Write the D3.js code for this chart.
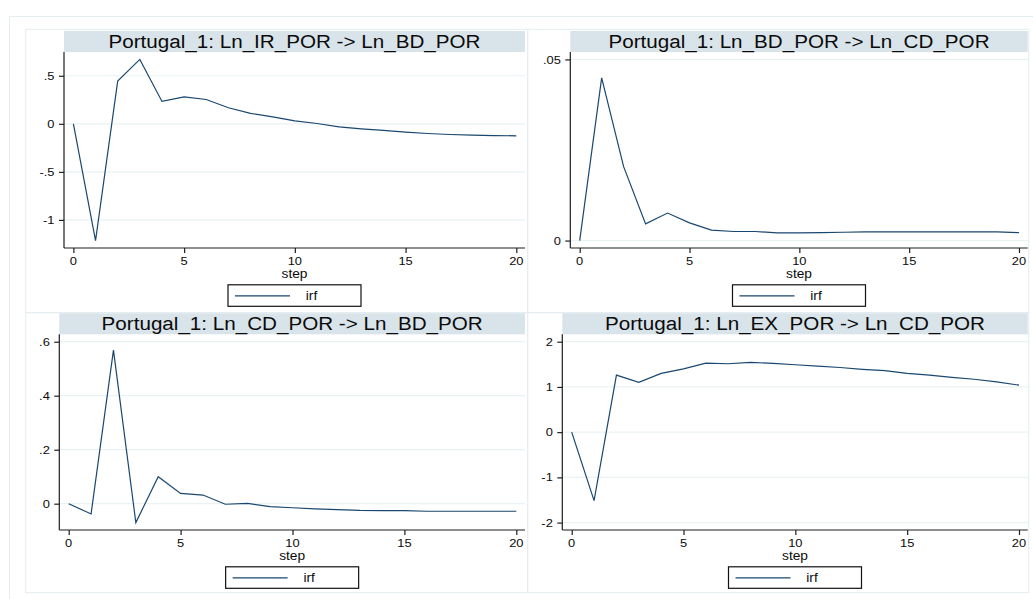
<!DOCTYPE html>
<html>
<head>
<meta charset="utf-8">
<script src="https://cdn.jsdelivr.net/npm/d3@7"></script>
<style>
  html, body { margin: 0; padding: 0; background: #ffffff; }
  svg { display: block; font-family: "Liberation Sans", Arial, sans-serif; }
</style>
</head>
<body>
<svg id="chart" width="1033" height="599"></svg>
<script>
// Impulse-response steps shared by all four graphs
const steps = [0, 1, 2, 3, 4, 5, 6, 7, 8, 9, 10, 11, 12, 13, 14, 15, 16, 17, 18, 19, 20];

const titles = [
  "Portugal_1: Ln_IR_POR -> Ln_BD_POR",
  "Portugal_1: Ln_BD_POR -> Ln_CD_POR",
  "Portugal_1: Ln_CD_POR -> Ln_BD_POR",
  "Portugal_1: Ln_EX_POR -> Ln_CD_POR"
];

// irf values, one array per impulse -> response pair
const irfIRtoBD = [0, -1.215, 0.444, 0.670, 0.233, 0.281, 0.253, 0.167, 0.108, 0.073, 0.031,
                   0.003, -0.031, -0.052, -0.069, -0.087, -0.101, -0.111, -0.118, -0.122, -0.125];
const irfBDtoCD = [0, 0.0449, 0.0204, 0.0046, 0.0076, 0.0049, 0.0029, 0.0025, 0.0025, 0.0021, 0.0021,
                   0.0022, 0.0023, 0.0024, 0.0024, 0.0024, 0.0024, 0.0024, 0.0024, 0.0024, 0.0022];
const irfCDtoBD = [0, -0.038, 0.569, -0.070, 0.100, 0.038, 0.032, -0.002, 0.001, -0.011, -0.015,
                   -0.019, -0.022, -0.025, -0.026, -0.026, -0.028, -0.028, -0.028, -0.028, -0.028];
const irfEXtoCD = [0, -1.513, 1.262, 1.10, 1.30, 1.40, 1.528, 1.513, 1.542, 1.52, 1.49,
                   1.46, 1.43, 1.39, 1.36, 1.30, 1.26, 1.21, 1.17, 1.11, 1.04];

// Axis ticks
const xTicks = [0, 5, 10, 15, 20];
const yTicksIRtoBD = [-1, -0.5, 0, 0.5];
const yLabelsIRtoBD = ["-1", "-.5", "0", ".5"];
const yTicksBDtoCD = [0, 0.05];
const yLabelsBDtoCD = ["0", ".05"];
const yTicksCDtoBD = [0, 0.2, 0.4, 0.6];
const yLabelsCDtoBD = ["0", ".2", ".4", ".6"];
const yTicksEXtoCD = [-2, -1, 0, 1, 2];
const yLabelsEXtoCD = ["-2", "-1", "0", "1", "2"];

const legendLabel = "irf";
const xTitle = "step";

// Layout of the 2x2 grid: outer panel box and inner plot region
const panels = [
  { title: titles[0], values: irfIRtoBD, yTicks: yTicksIRtoBD, yLabels: yLabelsIRtoBD,
    box: [25.7, 29.3, 527.7, 312.7], plot: [64, 52, 525, 248] },
  { title: titles[1], values: irfBDtoCD, yTicks: yTicksBDtoCD, yLabels: yLabelsBDtoCD,
    box: [527.7, 29.3, 1028.7, 312.7], plot: [570.3, 52, 1027.7, 248] },
  { title: titles[2], values: irfCDtoBD, yTicks: yTicksCDtoBD, yLabels: yLabelsCDtoBD,
    box: [25.7, 312.7, 527.7, 592.7], plot: [59.3, 334.3, 525, 530] },
  { title: titles[3], values: irfEXtoCD, yTicks: yTicksEXtoCD, yLabels: yLabelsEXtoCD,
    box: [527.7, 312.7, 1028.7, 592.7], plot: [562.3, 334.3, 1027.7, 530] }
];

const NAVY = "#1a476f";
const FRAME = "#e4edf0";
const GRID = "#eaf2f3";
const BAR = "#d9e4ea";
const AXIS = "#1e1e1e";
const SX = 1.11;          // horizontal text stretch
const TICK_FONT = 11.6;
const LABEL_FONT = 12.4;
const TITLE_FONT = 18.6;

const svg = d3.select("#chart");
svg.append("rect").attr("width", 1033).attr("height", 599).attr("fill", "#fff");

// outer graph frame
svg.append("rect")
  .attr("x", 9.5).attr("y", 16.5).attr("width", 1040).attr("height", 600)
  .attr("fill", "none").attr("stroke", FRAME).attr("stroke-width", 1);

function addText(g, x, y, str, size, anchor) {
  return g.append("text")
    .attr("transform", `translate(${x},${y}) scale(${SX},1)`)
    .attr("text-anchor", anchor)
    .attr("font-size", size)
    .attr("fill", "#0a0a0a")
    .text(str);
}

panels.forEach(p => {
  const g = svg.append("g");
  const [bx0, by0, bx1, by1] = p.box;
  const [left, top, right, bottom] = p.plot;

  g.append("rect")
    .attr("x", bx0).attr("y", by0).attr("width", bx1 - bx0).attr("height", by1 - by0)
    .attr("fill", "none").attr("stroke", FRAME).attr("stroke-width", 1);

  // y domain: data and ticks together, padded by 4.1% each side
  const ext = d3.extent(p.values.concat(p.yTicks));
  const pad = (ext[1] - ext[0]) * 0.041;
  const y = d3.scaleLinear().domain([ext[0] - pad, ext[1] + pad]).range([bottom, top]);
  const x = d3.scaleLinear().domain(d3.extent(steps)).range([left + 9.4, right - 8.7]);

  // title bar
  g.append("rect")
    .attr("x", left).attr("y", top - 21).attr("width", right - left).attr("height", 21)
    .attr("fill", BAR);
  addText(g, (left + right) / 2, top - 4.5, p.title, TITLE_FONT, "middle");

  // horizontal grid
  g.selectAll("line.grid").data(p.yTicks).enter().append("line")
    .attr("class", "grid")
    .attr("x1", left).attr("x2", right)
    .attr("y1", d => y(d)).attr("y2", d => y(d))
    .attr("stroke", GRID).attr("stroke-width", 1.2);

  // y axis
  const yAxis = d3.axisLeft(y).tickValues(p.yTicks).tickSize(5)
    .tickFormat((d, i) => p.yLabels[i]);
  const ya = g.append("g").attr("transform", `translate(${left},0)`).call(yAxis);
  ya.select(".domain").attr("d", `M0,${top}V${bottom}`).attr("stroke", AXIS).attr("stroke-width", 1.2);
  ya.selectAll(".tick line").attr("stroke", AXIS).attr("stroke-width", 1.2);
  ya.selectAll(".tick text").remove();
  p.yTicks.forEach((t, i) => {
    addText(g, left - 9.5, y(t) + 4.1, p.yLabels[i], TICK_FONT, "end");
  });

  // x axis
  const xAxis = d3.axisBottom(x).tickValues(xTicks).tickSize(5);
  const xa = g.append("g").attr("transform", `translate(0,${bottom})`).call(xAxis);
  xa.select(".domain").attr("d", `M${left},0H${right}`).attr("stroke", AXIS).attr("stroke-width", 1.2);
  xa.selectAll(".tick line").attr("stroke", AXIS).attr("stroke-width", 1.2);
  xa.selectAll(".tick text").remove();
  xTicks.forEach(t => addText(g, x(t), bottom + 16.6, String(t), TICK_FONT, "middle"));
  addText(g, (left + right) / 2, bottom + 29.5, xTitle, LABEL_FONT, "middle");

  // irf line
  const line = d3.line().x((d, i) => x(steps[i])).y(d => y(d));
  g.append("path").datum(p.values)
    .attr("d", line)
    .attr("fill", "none").attr("stroke", NAVY).attr("stroke-width", 1.2)
    .attr("stroke-linejoin", "miter");

  // legend
  const cx = (left + right) / 2;
  const ly = bottom + 36.8;
  g.append("rect")
    .attr("x", cx - 66.5).attr("y", ly).attr("width", 133).attr("height", 21.5)
    .attr("fill", "#fff").attr("stroke", "#111").attr("stroke-width", 1.2);
  g.append("line")
    .attr("x1", cx - 59.5).attr("x2", cx - 4.5)
    .attr("y1", ly + 11).attr("y2", ly + 11)
    .attr("stroke", NAVY).attr("stroke-width", 1.2);
  addText(g, cx + 17, ly + 15.5, legendLabel, LABEL_FONT, "middle");
});
</script>
</body>
</html>
